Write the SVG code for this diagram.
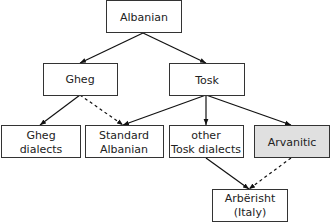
<svg xmlns="http://www.w3.org/2000/svg" width="330" height="224" viewBox="0 0 330 224">
<style>
.box{fill:#fff;stroke:#333;stroke-width:1}
.hl{fill:#e0e0e0}
text{font-family:"DejaVu Sans",sans-serif;font-size:11px;fill:#222;text-anchor:middle}
.e{stroke:#111;stroke-width:1.2;fill:none;marker-end:url(#ah)}
.d{stroke-dasharray:3,3}
</style>
<defs>
<marker id="ah" viewBox="0 0 10 10" refX="10" refY="5" markerWidth="6" markerHeight="6" markerUnits="userSpaceOnUse" orient="auto">
<path d="M0,1 L10,5 L0,9 z" fill="#111"/>
</marker>
</defs>
<g id="edges">
<line class="e" x1="143" y1="33" x2="80" y2="63"/>
<line class="e" x1="143" y1="33" x2="206" y2="63"/>
<line class="e" x1="80" y1="95" x2="40" y2="125"/>
<line class="e d" x1="80" y1="95" x2="123" y2="125"/>
<line class="e" x1="206" y1="95" x2="123" y2="125"/>
<line class="e" x1="206" y1="95" x2="206" y2="125"/>
<line class="e" x1="206" y1="95" x2="291" y2="125"/>
<line class="e" x1="206" y1="158" x2="249" y2="189"/>
<line class="e d" x1="291" y1="158" x2="249" y2="189"/>
</g>
<g id="albanian"><rect class="box" x="106.5" y="0.5" width="75" height="32"/><text x="144" y="21">Albanian</text></g>
<g id="gheg"><rect class="box" x="43.5" y="63.5" width="74" height="32"/><text x="80" y="83">Gheg</text></g>
<g id="tosk"><rect class="box" x="169.5" y="63.5" width="75" height="32"/><text x="207" y="84">Tosk</text></g>
<g id="gheg-dialects"><rect class="box" x="1.5" y="125.5" width="79" height="32"/><text x="41" y="139">Gheg</text><text x="41" y="153">dialects</text></g>
<g id="standard-albanian"><rect class="box" x="85.5" y="125.5" width="78" height="32"/><text x="124" y="139">Standard</text><text x="124" y="153">Albanian</text></g>
<g id="other-tosk"><rect class="box" x="169.5" y="125.5" width="74" height="32"/><text x="206" y="139">other</text><text x="206" y="153">Tosk dialects</text></g>
<g id="arvanitic"><rect class="box hl" x="254.5" y="125.5" width="75" height="32"/><text x="292" y="146">Arvanitic</text></g>
<g id="arberisht"><rect class="box" x="212.5" y="189.5" width="75" height="32"/><text x="250" y="202">Arbërisht</text><text x="250" y="216">(Italy)</text></g>
</svg>
